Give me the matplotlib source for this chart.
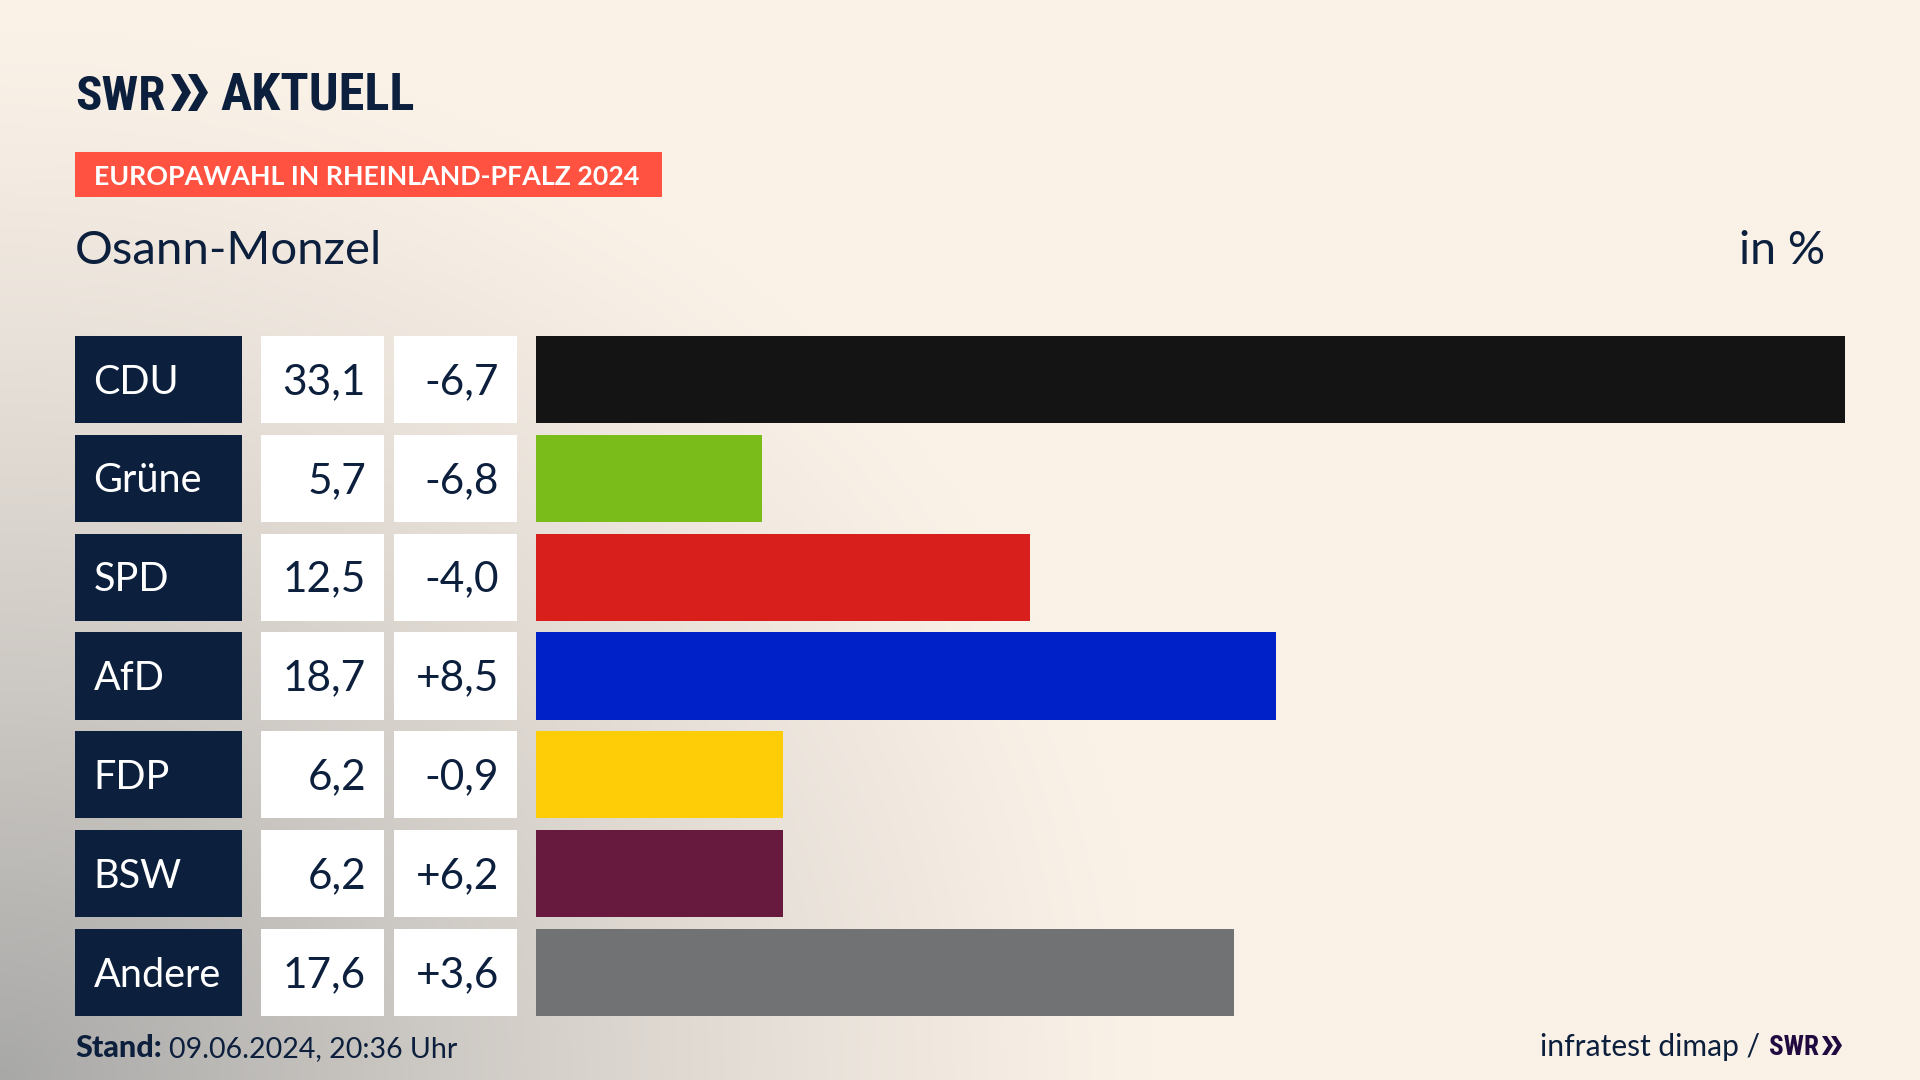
import numpy as np
import matplotlib
matplotlib.use("Agg")
import matplotlib.pyplot as plt
import matplotlib.font_manager as fm
from matplotlib.patches import Polygon, Rectangle

parties = ["CDU", "Grüne", "SPD", "AfD", "FDP", "BSW", "Andere"]
shares = [33.1, 5.71, 12.5, 18.7, 6.24, 6.24, 17.64]
share_labels = ["33,1", "5,7", "12,5", "18,7", "6,2", "6,2", "17,6"]
diff_labels = ["-6,7", "-6,8", "-4,0", "+8,5", "-0,9", "+6,2", "+3,6"]
colors = ["#141414", "#7ABD1A", "#D81F1C", "#0020C8", "#FFCC08", "#681A3E", "#707274"]

W, H = 1920, 1080
NAVY = "#0C1F3D"
FONT = "Lato"
plt.rcParams["font.family"] = [FONT, "DejaVu Sans"]


def narrow_bold():
    best = None
    for f in fm.fontManager.ttflist:
        key = (f.name + " " + str(f.stretch) + " " + f.fname).lower()
        if ("condensed" in key or "narrow" in key) and "extra" not in key and "semi" not in key \
                and "italic" not in key and "mono" not in key and "oblique" not in key and "cjk" not in key:
            if f.weight in (600, 700, "bold", "semibold") or "bold" in f.fname.lower():
                if best is None or "roboto" in key:
                    best = f
    if best is not None:
        return fm.FontProperties(fname=best.fname)
    return fm.FontProperties(family="Lato", weight="black")


LOGO = narrow_bold()

fig = plt.figure(figsize=(W / 100, H / 100), dpi=100)


def px_axes(x0, x1, y0, y1, **kw):
    return fig.add_axes([x0 / W, 1 - y1 / H, (x1 - x0) / W, (y1 - y0) / H], **kw)


# background
bg = px_axes(0, W, 0, H)
yy, xx = np.mgrid[0:H:270j, 0:W:480j]
d = np.sqrt((xx / 1150) ** 2 + ((H - yy) / 1050) ** 2)
t = np.clip(1 - d, 0, 1) ** 1.25
cream = np.array([250, 241, 231]) / 255
grey = np.array([168, 168, 167]) / 255
img = cream[None, None, :] * (1 - t[..., None]) + grey[None, None, :] * t[..., None]
bg.imshow(img, extent=(0, W, H, 0), aspect="auto", interpolation="bilinear")
bg.set_xlim(0, W)
bg.set_ylim(H, 0)
bg.axis("off")


def logo_text(x, y, s, width, color):
    fp = LOGO.copy()
    fp.set_size(30)
    tx = bg.text(x, y, s, fontproperties=fp, color=color, va="baseline", ha="left")
    w = tx.get_window_extent(fig.canvas.get_renderer()).width
    fp.set_size(30 * width / w)
    tx.set_fontproperties(fp)
    return tx


def chevrons(x, y0, y1, w, gap, color):
    for i in range(2):
        xs = x + i * gap
        bg.add_patch(Polygon([(xs, y0), (xs + w * 0.45, y0), (xs + w, (y0 + y1) / 2),
                              (xs + w * 0.45, y1), (xs, y1), (xs + w * 0.55, (y0 + y1) / 2)],
                             closed=True, fc=color, ec="none"))


# header
logo_text(75, 110, "SWR", 90, NAVY)
logo_text(220, 110, "AKTUELL", 194, NAVY)
chevrons(171, 74, 111, 20, 17, NAVY)
bg.add_patch(Rectangle((75, 152), 587, 45, fc="#FF5240", ec="none"))
bg.text(94, 185, "EUROPAWAHL IN RHEINLAND-PFALZ 2024", fontsize=19.3, fontweight="bold", color="white", va="baseline")
bg.text(75, 264, "Osann-Monzel", fontsize=34, color=NAVY, va="baseline")
bg.text(1825, 264, "in %", fontsize=33.5, color=NAVY, va="baseline", ha="right")

# footer
bg.text(75, 1057, "Stand:", fontsize=22, fontweight="black", color=NAVY, va="baseline")
bg.text(169, 1057, "09.06.2024, 20:36 Uhr", fontsize=20.5, color=NAVY, va="baseline")
bg.text(1760, 1056, "infratest dimap /", fontsize=21.6, color=NAVY, va="baseline", ha="right")
logo_text(1769, 1055, "SWR", 50, "#200A40")
chevrons(1822, 1036, 1055, 11, 9, "#200A40")

# rows
y = np.arange(len(parties))
BAR_H = 87 / 98.83
ylim = (len(parties) - 1 + BAR_H / 2, -BAR_H / 2)
Y0, Y1 = 336, 1016


def column(x0, x1, **kw):
    ax = px_axes(x0, x1, Y0, Y1, **kw)
    ax.patch.set_alpha(0)
    ax.set_ylim(*ylim)
    ax.axis("off")
    return ax


ax_lab = column(75, 242)
ax_lab.set_xlim(0, 167)
ax_lab.barh(y, [167] * len(y), height=BAR_H, color=NAVY)
ax_val = column(261, 384)
ax_val.set_xlim(0, 123)
ax_val.barh(y, [123] * len(y), height=BAR_H, color="white")
ax_dif = column(394, 517)
ax_dif.set_xlim(0, 123)
ax_dif.barh(y, [123] * len(y), height=BAR_H, color="white")
ax_bar = column(536, 1845)
ax_bar.set_xlim(0, max(shares))
ax_bar.barh(y, shares, height=BAR_H, color=colors)

for i in y:
    ax_lab.text(18.5, i - 0.01, parties[i], fontsize=28.5, color="white", va="center_baseline", ha="left")
    ax_val.text(105, i - 0.01, share_labels[i], fontsize=30.5, color=NAVY, va="center_baseline", ha="right")
    ax_dif.text(105, i - 0.01, diff_labels[i], fontsize=30.5, color=NAVY, va="center_baseline", ha="right")

fig.savefig("out.png", dpi=100)
